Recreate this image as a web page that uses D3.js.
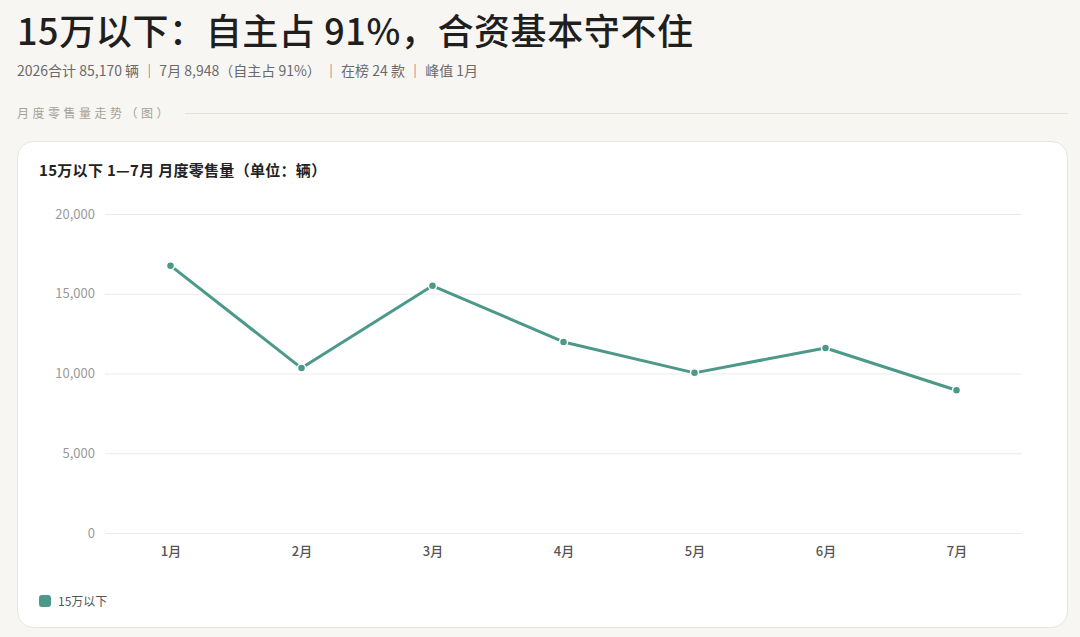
<!DOCTYPE html>
<html>
<head>
<meta charset="utf-8">
<script src="https://cdn.jsdelivr.net/npm/d3@7"></script>
<style>
  html, body { margin: 0; padding: 0; background: #f7f6f3; }
  body { width: 1080px; height: 637px; overflow: hidden; font-family: "Noto Sans CJK SC", "Noto Sans", sans-serif; }
</style>
</head>
<body>
<svg id="chart" width="1080" height="637"></svg>
<script>
// data
const months = ["1月", "2月", "3月", "4月", "5月", "6月", "7月"]
const sales = [16760, 10340, 15500, 11980, 10040, 11602, 8948]
const yTicks = [0, 5000, 10000, 15000, 20000]
const seriesName = "15万以下"

const title = "15万以下：自主占 91%，合资基本守不住"
const subtitle = "2026合计 85,170 辆 ｜ 7月 8,948（自主占 91%） ｜ 在榜 24 款 ｜ 峰值 1月"
const sectionLabel = "月度零售量走势（图）"
const cardTitle = "15万以下 1—7月 月度零售量（单位：辆）"

const color = "#4c998a"
const font = '"Noto Sans CJK SC", "Noto Sans", sans-serif'

const svg = d3.select("#chart").style("font-family", font)

// header
svg.append("text")
    .attr("x", 17).attr("y", 45)
    .attr("font-size", 36).attr("font-weight", 500)
    .attr("letter-spacing", 0.6)
    .attr("fill", "#1f1f1f")
    .text(title)

svg.append("text")
    .attr("x", 17).attr("y", 76)
    .attr("font-size", 14)
    .attr("fill", "#6a6a6a")
    .text(subtitle)

svg.append("text")
    .attr("x", 17).attr("y", 118)
    .attr("font-size", 12)
    .attr("letter-spacing", 3.5)
    .attr("fill", "#a8a193")
    .text(sectionLabel)

svg.append("line")
    .attr("x1", 185).attr("x2", 1068)
    .attr("y1", 113.5).attr("y2", 113.5)
    .attr("stroke", "#e4e1da")

// card
svg.append("rect")
    .attr("x", 17.5).attr("y", 141.5)
    .attr("width", 1050).attr("height", 486)
    .attr("rx", 16)
    .attr("fill", "#ffffff")
    .attr("stroke", "#e8e5de")

svg.append("text")
    .attr("x", 39).attr("y", 176)
    .attr("font-size", 15).attr("font-weight", 700)
    .attr("letter-spacing", 0.3)
    .attr("fill", "#222")
    .text(cardTitle)

// scales
let margin = { top: 214, right: 58, bottom: 104, left: 105 }
let width = 1080, height = 637

let x = d3.scalePoint()
    .domain(months)
    .range([margin.left, width - margin.right])
    .padding(0.5)

let y = d3.scaleLinear()
    .domain([0, 20000])
    .range([height - margin.bottom, margin.top])

// grid + y axis
let yAxis = g => g
    .attr("transform", `translate(${margin.left},0)`)
    .call(d3.axisLeft(y).tickValues(yTicks).tickFormat(d3.format(",")).tickSize(-(width - margin.left - margin.right)).tickPadding(10))
    .call(g => g.select(".domain").remove())
    .call(g => g.selectAll(".tick line").attr("stroke", "#ebebeb"))
    .call(g => g.selectAll(".tick text")
        .attr("fill", "#9a9a9a")
        .attr("font-size", 13)
        .attr("font-family", font))

svg.append("g").call(yAxis)

let xAxis = g => g
    .attr("transform", `translate(0,${height - margin.bottom})`)
    .call(d3.axisBottom(x).tickSize(0).tickPadding(14))
    .call(g => g.select(".domain").remove())
    .call(g => g.selectAll(".tick text")
        .attr("fill", "#555")
        .attr("font-size", 13)
        .attr("font-weight", 500)
        .attr("font-family", font))

svg.append("g").call(xAxis)

// line
let line = d3.line()
    .x((d, i) => x(months[i]))
    .y(d => y(d))

svg.append("path")
    .datum(sales)
    .attr("fill", "none")
    .attr("stroke", color)
    .attr("stroke-width", 3)
    .attr("stroke-linejoin", "round")
    .attr("stroke-linecap", "round")
    .attr("d", line)

svg.append("g")
    .selectAll("circle")
    .data(sales)
    .join("circle")
    .attr("cx", (d, i) => x(months[i]))
    .attr("cy", d => y(d))
    .attr("r", 4)
    .attr("fill", color)
    .attr("stroke", "#fff")
    .attr("stroke-width", 1.5)

// legend
svg.append("rect")
    .attr("x", 39).attr("y", 595)
    .attr("width", 12).attr("height", 12)
    .attr("rx", 3)
    .attr("fill", color)

svg.append("text")
    .attr("x", 58).attr("y", 605.5)
    .attr("font-size", 12)
    .attr("fill", "#555")
    .text(seriesName)
</script>
</body>
</html>
